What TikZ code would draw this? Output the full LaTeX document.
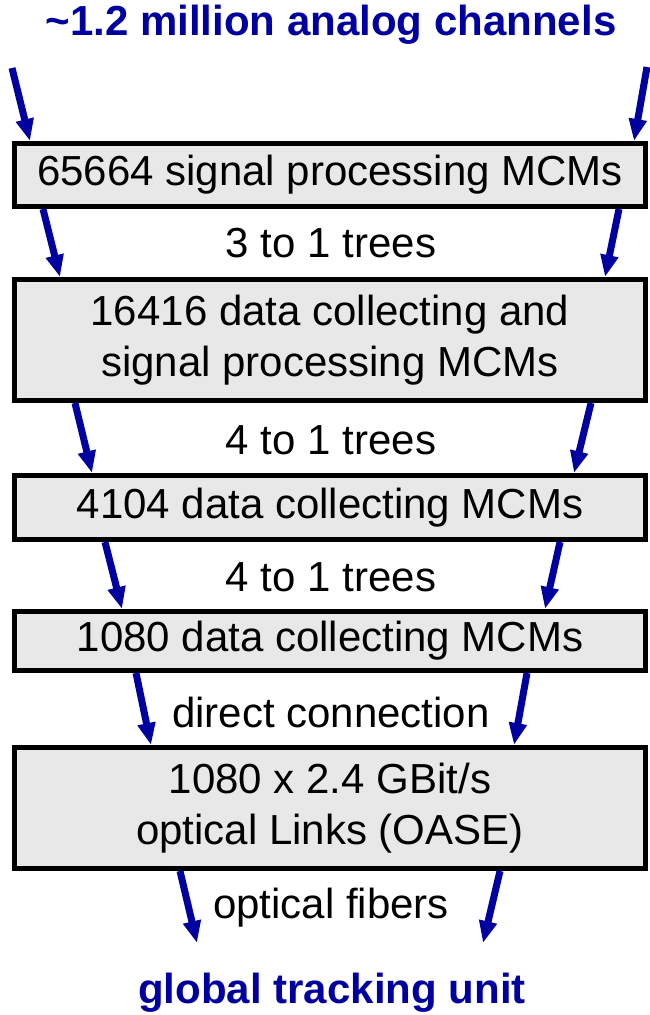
\documentclass[tikz,border=0pt]{standalone}
\usepackage{fontspec}
\setmainfont{Liberation Sans}
\usetikzlibrary{arrows.meta,calc}
\definecolor{flowblue}{RGB}{0,0,160}
\definecolor{boxgray}{RGB}{232,232,232}
\begin{document}
\begin{tikzpicture}[x=1pt,y=-1pt,
  stage/.style={draw=black,line width=5pt,fill=boxgray,rectangle,
    minimum width=631pt,inner sep=0pt,align=center,
    font=\fontsize{42}{51}\selectfont},
  note/.style={inner sep=0pt,font=\fontsize{42}{50}\selectfont},
  headline/.style={inner sep=0pt,text=flowblue,
    font=\fontsize{42}{50}\selectfont\bfseries},
  flow/.style={draw=flowblue,line width=7pt,
    -{Triangle[length=22pt,width=17pt]}}]
\useasboundingbox (0,0) rectangle (649,1015);

% title and final destination
\node[headline] (top) at (331,25) {\textasciitilde1.2 million analog channels};
\node[headline] (gtu) at (332,993) {global tracking unit};

% processing stages
\node[stage,minimum height=63pt]  (b1) at (330,175)   {65664 signal processing MCMs};
\node[stage,minimum height=121pt] (b2) at (330,340)   {16416 data collecting and\\signal processing MCMs};
\node[stage,minimum height=64pt]  (b3) at (330,507.5) {4104 data collecting MCMs};
\node[stage,minimum height=59pt]  (b4) at (330,641)   {1080 data collecting MCMs};
\node[stage,minimum height=121pt] (b5) at (330,808)   {1080 x 2.4 GBit/s\\optical Links (OASE)};

% labels between the stages
\node[note] (l1) at (331,243) {3 to 1 trees};
\node[note] (l2) at (331,440) {4 to 1 trees};
\node[note] (l3) at (331,577) {4 to 1 trees};
\node[note] (l4) at (331,712) {direct connection};
\node[note] (l5) at (331,908) {optical fibers};

% free ends of the outer arrows
\coordinate (inL) at (12,68);
\coordinate (inR) at (647,67);
\coordinate (outL) at (197,943);
\coordinate (outR) at (483,943);

% data flow arrows
\draw[flow] (inL) -- ($(b1.north west)+(18,0)$);
\draw[flow] (inR) -- ($(b1.north east)+(-14,0)$);

\draw[flow] ($(b1.south west)+(31,0)$) -- ($(b2.north west)+(48,0)$);
\draw[flow] ($(b1.south east)+(-29,0)$) -- ($(b2.north east)+(-43,0)$);

\draw[flow] ($(b2.south west)+(63,0)$) -- ($(b3.north west)+(80,0)$);
\draw[flow] ($(b2.south east)+(-57,0)$) -- ($(b3.north east)+(-74,0)$);

\draw[flow] ($(b3.south west)+(93,0)$) -- ($(b4.north west)+(110,0)$);
\draw[flow] ($(b3.south east)+(-88,0)$) -- ($(b4.north east)+(-103,0)$);

\draw[flow] ($(b4.south west)+(124,0)$) -- ($(b5.north west)+(139,0)$);
\draw[flow] ($(b4.south east)+(-121,0)$) -- ($(b5.north east)+(-134,0)$);

\draw[flow] ($(b5.south west)+(168,0)$) -- (outL);
\draw[flow] ($(b5.south east)+(-148,0)$) -- (outR);
\end{tikzpicture}
\end{document}
